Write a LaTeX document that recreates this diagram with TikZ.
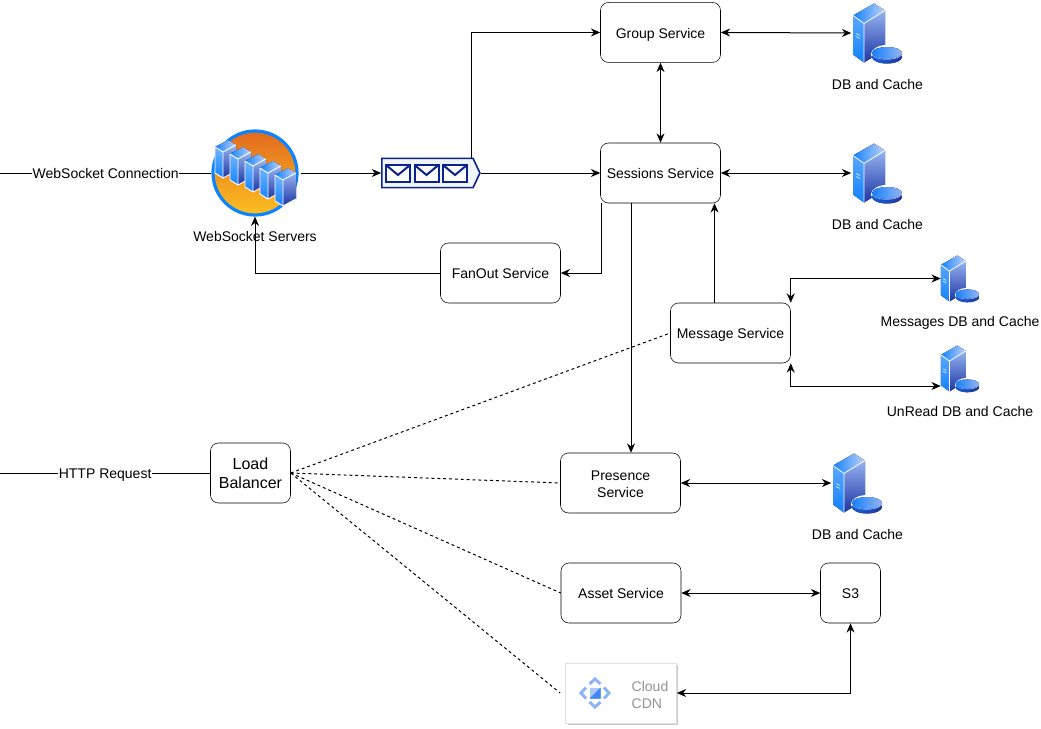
\documentclass[tikz,border=0pt]{standalone}
\usepackage{fontspec}
\setmainfont{Liberation Sans}
\usetikzlibrary{arrows.meta, positioning, calc, shapes.symbols, shadows}
\definecolor{colLine}{RGB}{0,0,0}
\definecolor{colRing}{RGB}{10,132,255}
\definecolor{colQueue}{RGB}{11,36,140}
\definecolor{colFaceL}{RGB}{20,130,255}
\definecolor{colFaceD}{RGB}{28,52,165}
\definecolor{colFaceU}{RGB}{150,180,240}
\definecolor{colCdn}{RGB}{138,180,248}
\definecolor{colCdnL}{RGB}{168,199,250}
\definecolor{colCdnD}{RGB}{66,133,244}
\definecolor{colOrangeT}{RGB}{226,105,31}
\definecolor{colOrangeB}{RGB}{253,192,32}
\newcommand{\midline}{\rule[-2pt]{0pt}{12.9pt}}
\tikzset{
  service/.style={
    draw, rectangle, rounded corners=6pt, fill=white,
    minimum width=90pt, minimum height=45pt, inner sep=1pt,
    font=\fontsize{10.5}{12.75}\selectfont, align=center
  },
  iconbox/.style={
    rectangle, inner sep=0pt, minimum width=39pt, minimum height=45pt
  },
  smallbox/.style={
    rectangle, inner sep=0pt, minimum width=30pt, minimum height=36pt
  },
  caption/.style={
    inner sep=0pt, font=\fontsize{10.5}{12.75}\selectfont
  },
  edgelabel/.style={
    fill=white, inner sep=0.5pt, font=\fontsize{10.5}{12.75}\selectfont
  },
  flow/.style={
    draw=colLine, -{Stealth[length=7pt,width=6pt]}, line width=0.75pt
  },
  biflow/.style={
    draw=colLine, {Stealth[length=7pt,width=6pt]}-{Stealth[length=7pt,width=6pt]}, line width=0.75pt
  },
  plainflow/.style={
    draw=colLine, line width=0.75pt
  },
  dashflow/.style={
    draw=colLine, line width=0.75pt, dash pattern=on 2.2pt off 2.2pt
  },
  dbicon/.pic={
    \begin{scope}[shift={(-24.5,-29.5)}]
      \fill[top color=colFaceL!70!white, bottom color=colFaceL] (0,12) -- (11,20) -- (11,59) -- (0,51) -- cycle;
      \fill[top color=colFaceU, bottom color=colFaceD] (11,20) -- (32,7) -- (32,46) -- (11,59) -- cycle;
      \fill[left color=colFaceL, right color=colFaceU!60!white] (0,12) -- (21,0) -- (32,7) -- (11,20) -- cycle;
      \draw[white, line width=0.6pt] (0,12) -- (11,20) -- (32,7) (11,20) -- (11,59);
      \draw[white, line width=0.4pt] (3,30) -- (7,32) (3,33) -- (7,35);
      \fill[white] (34,51) ellipse [x radius=16, y radius=9.5];
      \fill[left color=colFaceL!60!colFaceD, right color=colFaceD] (34,53.5) ellipse [x radius=15, y radius=6.5];
      \fill[white] (34,49.5) ellipse [x radius=15.5, y radius=6.5];
      \fill[left color=colFaceL, right color=colFaceU] (34,49.5) ellipse [x radius=15, y radius=6];
    \end{scope}
  },
  rackicon/.pic={
    \fill[top color=colFaceL!60!white, bottom color=colFaceL] (0,7) -- (8,12) -- (8,38) -- (0,33) -- cycle;
    \fill[top color=colFaceU, bottom color=colFaceD] (8,12) -- (21,5) -- (21,31) -- (8,38) -- cycle;
    \fill[left color=colFaceL, right color=colFaceU!60!white] (0,7) -- (13,0) -- (21,5) -- (8,12) -- cycle;
    \draw[white, line width=0.7pt] (0,7) -- (8,12) -- (21,5) (8,12) -- (8,38) (0,7) -- (0,33) -- (8,38) -- (21,31);
  },
}

\begin{document}
\begin{tikzpicture}[x=0.75pt, y=-0.75pt]
\useasboundingbox (0,0) rectangle (1041,728);

% Services
\node[service] (sessions) at (660.5,173) {\midline Sessions Service};
\node[service, above=60pt of sessions] (group) {\midline Group Service};
\node[service] (fanout) at (500.5,273) {\midline FanOut Service};
\node[service] (message) at (730.5,333) {\midline Message Service};
\node[service] (presence) at (620.5,483) {\rule{0pt}{9.5pt}Presence\\Service};
\node[service] (asset) at (621,593) {\midline Asset Service};
\node[service, minimum width=45pt] (s3) at (850.5,593) {\midline S3};
\node[service, minimum width=60pt, font=\fontsize{12}{14.5}\selectfont] (balancer) at (250.5,473) {Load\\Balancer};

% Free ends on the left
\coordinate (wsin) at (0,173);
\coordinate (httpin) at (0,473);

% WebSocket servers
\node[circle, draw=colRing, line width=2.4pt, minimum size=63pt, inner sep=0pt,
  top color=colOrangeT, bottom color=colOrangeB] (wsserver) at (255,173) {};
\foreach \i in {0,...,4}
  \pic at ({215+15*\i},{140+7*\i}) {rackicon};
\node[caption] (wslabel) at (255,236) {WebSocket Servers};

% Queue
\node[signal, signal to=east, signal pointer angle=130, draw=colQueue, fill=colFaceU!15!white,
  line width=1.2pt, minimum width=73.5pt, minimum height=22pt, inner sep=0pt] (queue) at (427.5,173) {};
\foreach \x in {398,426.5,455}{
  \draw[colQueue, line width=1.5pt, fill=white] (\x-12,165) rectangle (\x+12,182);
  \draw[colQueue, line width=1.5pt] (\x-12,165) -- (\x,175) -- (\x+12,165);
}

% Database icons
\node[iconbox] (groupdb) at (877.5,33) {};
\pic at (groupdb) {dbicon};
\node[caption, below=12pt of groupdb] (groupdblabel) {DB and Cache};
\node[iconbox] (sessionsdb) at (877.5,173) {};
\pic at (sessionsdb) {dbicon};
\node[caption, below=12pt of sessionsdb] (sessionsdblabel) {DB and Cache};
\node[iconbox] (presencedb) at (857.5,483) {};
\pic at (presencedb) {dbicon};
\node[caption, below=12pt of presencedb] (presencedblabel) {DB and Cache};
\node[smallbox] (messagesdb) at (960,278.5) {};
\pic[scale=0.78] at (messagesdb) {dbicon};
\node[caption, below=10pt of messagesdb] (messagesdblabel) {Messages DB and Cache};
\node[smallbox] (unreaddb) at (960,368.5) {};
\pic[scale=0.78] at (unreaddb) {dbicon};
\node[caption, below=10pt of unreaddb] (unreaddblabel) {UnRead DB and Cache};

% Cloud CDN
\node[rectangle, draw=black!12, fill=white, line width=0.75pt, minimum width=83pt, minimum height=45pt,
  drop shadow={shadow xshift=1.5pt, shadow yshift=-1.5pt, fill=black!22, opacity=1}] (cdn) at (621,693) {};
\node[inner sep=0pt, align=left, text=black!42, font=\fontsize{10.5}{12.75}\selectfont] (cdntext) at (650,695) {Cloud\\CDN};
\foreach \r in {0,90,180,270}
  \draw[colCdn, line width=2.2pt, rotate around={\r:(595,693)}] (589.5,684) -- (595,679) -- (600.5,684);
\fill[colCdnL] (589.5,687.5) rectangle (600.5,698.5);
\fill[colCdnD] (600.5,687.5) -- (600.5,698.5) -- (589.5,698.5) -- cycle;

% Incoming
\draw[plainflow] (wsin) -- node[edgelabel]{\midline WebSocket Connection} (wsserver.west);
\draw[plainflow] (httpin) -- node[edgelabel]{\midline HTTP Request} (balancer.west);

% WebSocket path
\draw[flow] ($(wsserver.east)+(2,0)$) -- (queue.west);
\draw[flow] (queue.east) -- (sessions.west);
\draw[flow] ($(queue.north)+(43.5,0)$) |- (group.west);
\draw[flow] (fanout.west) -| (wsserver.south);

% Group and sessions
\draw[biflow] (group.east) -- (groupdb.west);
\draw[biflow] (group.south) -- (sessions.north);
\draw[biflow] (sessions.east) -- (sessionsdb.west);
\draw[flow] ($(sessions.south)+(-59,0)$) |- (fanout.east);
\draw[flow] ($(sessions.south)+(-29.5,0)$) -- ($(presence.north)+(10.5,0)$);

% Message service
\draw[flow] ($(message.north)+(-16,0)$) -- ($(sessions.south)+(54,0)$);
\draw[biflow] (message.north east) |- ($(messagesdb.west)+(1,0)$);
\draw[biflow] (message.south east) |- ($(unreaddb.west)+(1,17.5)$);

% Load balancer
\draw[dashflow] (balancer.east) -- (message.west);
\draw[dashflow] (balancer.east) -- (presence.west);
\draw[dashflow] (balancer.east) -- (asset.west);
\draw[dashflow] (balancer.east) -- ($(cdn.west)+(-5,0)$);

% Storage
\draw[biflow] (presence.east) -- (presencedb.west);
\draw[biflow] (asset.east) -- (s3.west);
\draw[biflow] (cdn.east) -| (s3.south);

\end{tikzpicture}
\end{document}
